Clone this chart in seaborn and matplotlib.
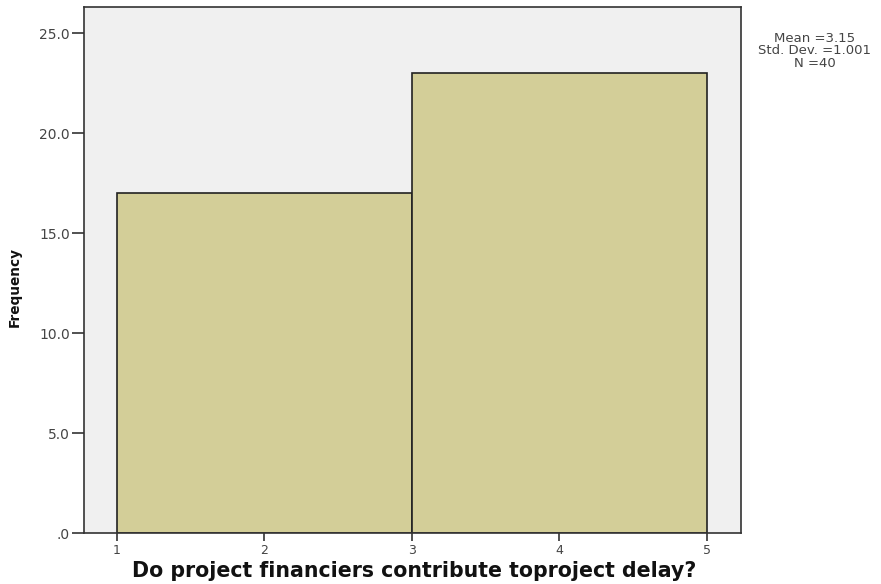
import matplotlib
matplotlib.use("Agg")
import matplotlib.pyplot as plt
import seaborn as sns

# bin edges and frequencies
bin_edges = [1, 3, 5]
bin_mids = [2, 4]
frequencies = [17, 23]
x_ticks = [1, 2, 3, 4, 5]
y_ticks = [0, 5, 10, 15, 20, 25]
y_tick_labels = [".0", "5.0", "10.0", "15.0", "20.0", "25.0"]
stats_text = "Mean =3.15\nStd. Dev. =1.001\nN =40"

sns.set_style("white")
plt.rcParams["font.family"] = ["DejaVu Sans"]

fig = plt.figure(figsize=(8.81, 5.84), dpi=100)
ax = fig.add_axes([0.0953, 0.0873, 0.7457, 0.9007])
ax.set_facecolor("#F0F0F0")

sns.histplot(x=bin_mids, weights=frequencies, bins=bin_edges, ax=ax,
             color="#D3CE98", alpha=1, edgecolor="#222222", linewidth=1.2)

ax.set_xlim(0.776, 5.23)
ax.set_ylim(0, 26.3)
ax.set_xticks(x_ticks)
ax.set_xticklabels([str(t) for t in x_ticks], fontsize=9, color="#444444")
ax.set_yticks(y_ticks)
ax.set_yticklabels(y_tick_labels, fontsize=10, color="#444444")
ax.tick_params(axis="x", direction="out", length=6, width=1.2, color="#333333", pad=2, bottom=True)
ax.tick_params(axis="y", direction="out", length=9, width=1.2, color="#333333", pad=1, left=True)

for s in ax.spines.values():
    s.set_color("#333333")
    s.set_linewidth(1.2)

ax.set_xlabel("Do project financiers contribute toproject delay?", fontsize=14.8,
              fontweight="bold", family=["DejaVu Sans"], color="#111111")
ax.xaxis.set_label_coords(0.503, -0.053)
ax.set_ylabel("Frequency", fontsize=9.8, fontweight="bold",
              family=["Liberation Sans Narrow", "DejaVu Sans"], color="#111111")
ax.yaxis.set_label_coords(-0.094, 0.468)

fig.text(0.925, 0.913, stats_text, ha="center", va="center", fontsize=9.5,
         color="#444444", linespacing=0.95)

fig.savefig("out.png", dpi=100)
